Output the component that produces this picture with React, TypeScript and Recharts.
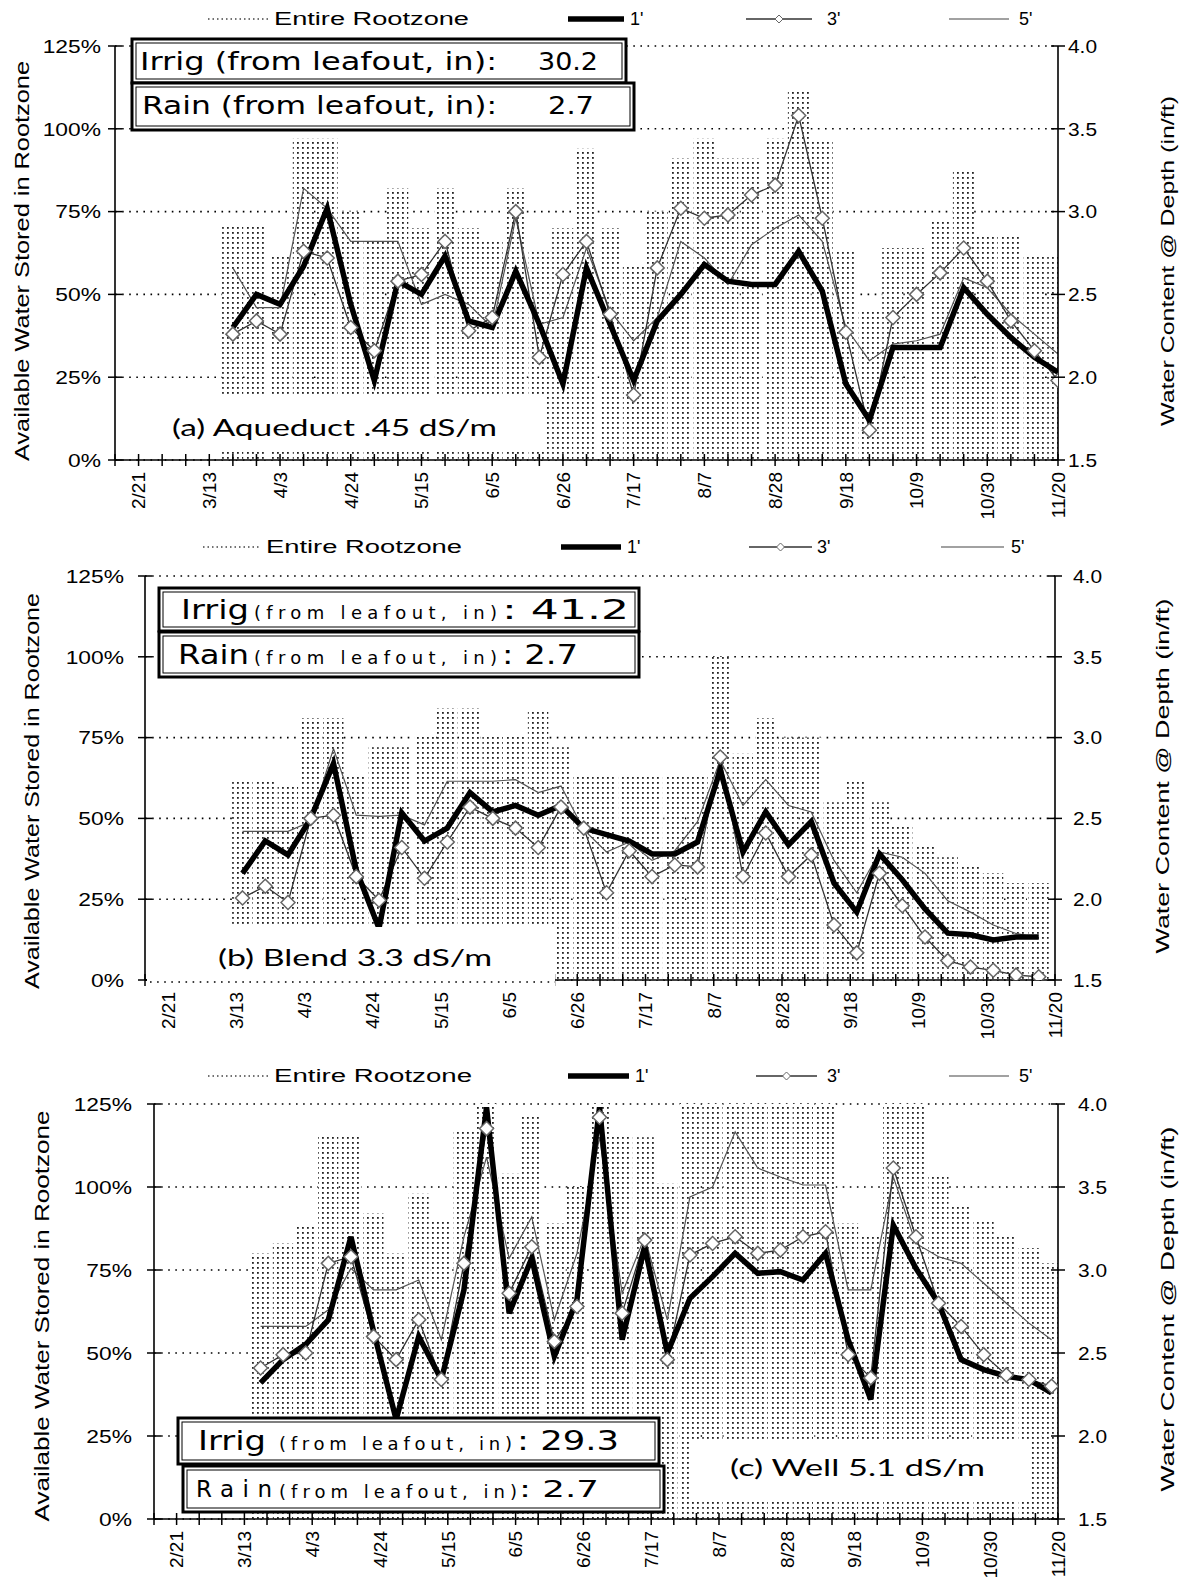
import React from 'react';
import { ComposedChart, Bar, Line, XAxis, YAxis, CartesianGrid } from 'recharts';

// ---- shared axis data ----
const minorTicks = [-7, 0, 7, 14, 21, 28, 35, 42, 49, 56, 63, 70, 77, 84, 91, 98, 105, 112, 119, 126, 133, 140, 147, 154, 161, 168, 175, 182, 189, 196, 203, 210, 217, 224, 231, 238, 245, 252, 259, 266, 273];
const labelDays = [0, 21, 42, 63, 84, 105, 126, 147, 168, 189, 210, 231, 252, 273];
const tickLabels = ['2/21', '3/13', '4/3', '4/24', '5/15', '6/5', '6/26', '7/17', '8/7', '8/28', '9/18', '10/9', '10/30', '11/20'];
const leftTicks = [0, 25, 50, 75, 100, 125];
const rightTicks = [1.5, 2, 2.5, 3, 3.5, 4];
const rightLabels = ['1.5', '2.0', '2.5', '3.0', '3.5', '4.0'];

// ---- panel (a) Aqueduct : weekly readings (days after 2/21) ----
const aDays = [28, 35, 42, 49, 56, 63, 70, 77, 84, 91, 98, 105, 112, 119, 126, 133, 140, 147, 154, 161, 168, 175, 182, 189, 196, 203, 210, 217, 224, 231, 238, 245, 252, 259, 266, 273];
const aRoot = [71, 71, 62, 97, 97, 75, 66, 82, 70, 82, 70, 66, 82, 63, 70, 94, 70, 59, 75, 91, 97, 91, 91, 97, 112, 96, 63, 45, 64, 64, 72, 87, 68, 68, 62, 62];
const a1 = [40, 50, 47, 58.5, 76, 47, 24, 54, 50, 61.6, 42, 40, 57, 41, 23, 58, 41, 24, 42, 50, 59, 54, 53, 53, 63, 51, 23, 12, 34, 34, 34, 52, 44, 37, 31, 26.5];
const a3 = [38, 42, 38, 63, 61, 40, 33, 54, 56, 66, 39, 43, 75, 31, 56, 66, 44, 19.6, 58, 76, 73, 74, 80, 83, 104, 73, 38.6, 9, 43, 50, 56.5, 64, 54, 42, 33, 24];
const a5 = [58, 46, 46, 82, 76, 66, 66, 66, 47, 50, 47, 40, 73, 41, 43, 64, 45, 36, 43, 66, 61, 53, 65, 70, 74, 66, 40, 30, 35, 36, 38, 55, 52, 44, 38, 32];

// ---- panel (b) Blend ----
const bDays = [23, 30, 37, 44, 51, 58, 65, 72, 79, 86, 93, 100, 107, 114, 121, 128, 135, 142, 149, 156, 163, 170, 177, 184, 191, 198, 205, 212, 219, 226, 233, 240, 247, 254, 261, 268];
const bRoot = [62, 62, 60, 81, 81, 63, 72, 72, 76, 84, 84, 76, 76, 83, 72, 63, 63, 63, 63, 63, 63, 100, 70, 81, 75, 75, 55, 62, 55, 48, 42, 38, 35, 33, 30, 30];
const b1 = [33, 43, 38.7, 50, 67, 34, 16, 51.7, 43, 47, 58, 52, 54, 51, 54, 47, 45, 43, 39, 39, 42.7, 65, 39.6, 52, 41.8, 49, 30, 21, 39, 31, 22, 14.5, 14, 12.4, 13.3, 13.3];
const b3 = [25.4, 29, 24, 50, 51, 32, 24.7, 41, 31.5, 42.7, 53.5, 50, 47, 41, 53.5, 47, 27, 40, 32, 35.6, 35, 69, 32, 45.5, 32, 38.7, 17, 8.4, 33, 23, 13.3, 6, 4, 3, 1.5, 1];
const b5 = [46, 46, 46, 49, 71.6, 51, 50.6, 51, 48, 61.5, 61.5, 61.5, 62, 58, 60, 46.5, 39.6, 42.7, 37, 40, 49, 68, 54, 62, 54, 52, 37, 27, 39.6, 38, 33, 24.5, 21, 17, 14.4, 13];

// ---- panel (c) Well ----
const cDays = [26, 33, 40, 47, 54, 61, 68, 75, 82, 89, 96, 103, 110, 117, 124, 131, 138, 145, 152, 159, 166, 173, 180, 187, 194, 201, 208, 215, 222, 229, 236, 243, 250, 257, 264, 271];
const cRoot = [80, 83, 88, 116, 116, 92, 80, 98, 90, 117, 125, 104, 122, 89, 100, 125, 116, 115, 101, 125, 125, 125, 125, 125, 125, 125, 89, 85.5, 125, 125, 103.6, 94, 90, 85, 81.6, 77];
const c1 = [41, 48, 52.6, 60, 85, 56.5, 30, 55, 42, 69, 124, 62, 78.5, 49, 66, 124, 54, 82, 50, 66.5, 73, 80, 74, 74.5, 72, 80, 54, 36, 88.5, 75.5, 65, 48, 45, 43, 42, 38];
const c3 = [45.5, 49.5, 50, 77, 79, 55, 48, 60, 42, 77, 117.6, 68, 82, 53.5, 64, 121, 62, 84, 48, 79.5, 83, 85, 80, 81, 85, 86.5, 49.5, 42.5, 105.7, 85, 65, 58, 49.5, 43.4, 42, 40];
const c5 = [58, 58, 58, 63, 75.5, 69, 69, 72, 54, 85, 109, 78.5, 91, 60, 80, 115, 68, 85, 60, 97, 100, 116.6, 105.7, 103, 100.6, 100.6, 69, 69, 103, 83, 79, 77, 71, 65, 59, 54];

const FONT = "'Liberation Sans', Arial, Helvetica, sans-serif";
const BOXFONT = "'DejaVu Sans', Verdana, sans-serif";
const NOTEFONT = "Lato, 'Open Sans', sans-serif";

const CW: Record<string, number> = { '0': 0.556, '1': 0.556, '2': 0.556, '3': 0.556, '4': 0.556, '5': 0.556, '6': 0.556, '7': 0.556, '8': 0.556, '9': 0.556, '%': 0.889, '.': 0.278, '/': 0.278 };
const natW = (s: string, fs: number) => s.split('').reduce((a, c) => a + (CW[c] ?? 0.556), 0) * fs;

const Diamond = (p: any) => {
  const { cx, cy, index } = p;
  if (cx == null || cy == null || isNaN(cx) || isNaN(cy)) return <g key={'d' + index} />;
  const s = 7;
  return (
    <polygon key={'d' + index} points={`${cx},${cy - s} ${cx + s},${cy} ${cx},${cy + s} ${cx - s},${cy}`}
      fill="#fff" stroke="#666" strokeWidth={1.5} />
  );
};

const XTick = (p: any) => {
  const { x, y, payload } = p;
  const idx = labelDays.indexOf(payload.value);
  const ty = y + 12;
  return (
    <g>
      <line x1={x} x2={x} y1={y - 6} y2={y + 6} stroke="#000" strokeWidth={1.5} />
      {idx >= 0 ? (
        <text x={x} y={ty} transform={`rotate(-90 ${x} ${ty})`} textAnchor="end" dy="0.36em"
          fontFamily={FONT} fontSize={19} fill="#000">{tickLabels[idx]}</text>
      ) : null}
    </g>
  );
};

const TFS = 19;
const SX = 1.2;

const makeLeftTick = (gap: number) => (p: any) => {
  const { x, y, payload } = p;
  const s = `${payload.value}%`;
  return (
    <g>
      <line x1={x - 7} x2={x + 7} y1={y} y2={y} stroke="#000" strokeWidth={1.5} />
      <text x={x - gap} y={y} dy="0.36em" textAnchor="end" fontFamily={FONT} fontSize={TFS} fill="#000"
        textLength={natW(s, TFS) * SX} lengthAdjust="spacingAndGlyphs">{s}</text>
    </g>
  );
};

const makeRightTick = (gap: number) => (p: any) => {
  const { x, y, payload } = p;
  const i = rightTicks.indexOf(payload.value);
  const s = rightLabels[i];
  return (
    <g>
      <line x1={x - 7} x2={x + 7} y1={y} y2={y} stroke="#000" strokeWidth={1.5} />
      <text x={x + gap} y={y} dy="0.36em" textAnchor="start" fontFamily={FONT} fontSize={TFS} fill="#000"
        textLength={natW(s, TFS) * 1.1} lengthAdjust="spacingAndGlyphs">{s}</text>
    </g>
  );
};

type PanelProps = {
  top: number; height: number; l: number; r: number; t: number; b: number; xh: number;
  lgap: number; rgap: number; days: number[]; root: number[]; s1: number[]; s3: number[]; s5: number[];
};

const W = 1190;

function Panel(props: PanelProps) {
  const { top, height, l, r, t, b, xh, lgap, rgap, days, root, s1, s3, s5 } = props;
  const data = days.map((d, i) => ({ day: d, root: root[i], s1: s1[i], s3: s3[i], s5: s5[i] }));
  const rightW = 60;
  const margin = { top: t - top, bottom: top + height - b - xh, left: 0, right: W - r - rightW };
  const barW = ((r - l) * 7) / 280 + 0.8;
  return (
    <div style={{ position: 'absolute', left: 0, top, width: W, height }}>
      <ComposedChart width={W} height={height} data={data} margin={margin}>
        <CartesianGrid yAxisId="left" vertical={false} stroke="#000" strokeWidth={1.6} strokeDasharray="1.6 5.5" />
        <XAxis dataKey="day" type="number" domain={[-7, 273]} ticks={minorTicks} interval={0} height={xh}
          tick={XTick} tickLine={false} tickSize={0} tickMargin={0}
          axisLine={{ stroke: '#000', strokeWidth: 1.6 }} allowDataOverflow />
        <YAxis yAxisId="left" orientation="left" width={l} domain={[0, 125]} ticks={leftTicks} interval={0}
          tick={makeLeftTick(lgap)} tickLine={false} tickSize={0} tickMargin={0}
          axisLine={{ stroke: '#000', strokeWidth: 1.6 }} allowDataOverflow />
        <YAxis yAxisId="right" orientation="right" width={rightW} domain={[1.5, 4]} ticks={rightTicks} interval={0}
          tick={makeRightTick(rgap)} tickLine={false} tickSize={0} tickMargin={0}
          axisLine={{ stroke: '#000', strokeWidth: 1.6 }} allowDataOverflow />
        <Bar yAxisId="left" dataKey="root" fill="url(#dotpat)" barSize={barW} isAnimationActive={false} />
        <Line yAxisId="left" dataKey="s5" stroke="#555" strokeWidth={1.2} dot={false} type="linear" isAnimationActive={false} />
        <Line yAxisId="left" dataKey="s3" stroke="#333" strokeWidth={1.3} dot={Diamond} type="linear" isAnimationActive={false} />
        <Line yAxisId="left" dataKey="s1" stroke="#000" strokeWidth={5.5} dot={false} type="linear" isAnimationActive={false} />
      </ComposedChart>
    </div>
  );
}

type LegendCfg = { y: number; dot: number[]; txt: number[]; l1: number[]; t1: number; l3: number[]; t3: number; l5: number[]; t5: number };

function LegendRow({ c }: { c: LegendCfg }) {
  const m3 = (c.l3[0] + c.l3[1]) / 2;
  return (
    <g fontFamily={FONT} fontSize={18} fill="#000">
      <line x1={c.dot[0]} x2={c.dot[1]} y1={c.y} y2={c.y} stroke="#444" strokeWidth={1.5} strokeDasharray="1.5 3" />
      <text x={c.txt[0]} y={c.y} dominantBaseline="central" textLength={c.txt[1] - c.txt[0]} lengthAdjust="spacingAndGlyphs">Entire Rootzone</text>
      <line x1={c.l1[0]} x2={c.l1[1]} y1={c.y} y2={c.y} stroke="#000" strokeWidth={5.5} />
      <text x={c.t1} y={c.y} dominantBaseline="central">1'</text>
      <line x1={c.l3[0]} x2={c.l3[1]} y1={c.y} y2={c.y} stroke="#333" strokeWidth={1.3} />
      <polygon points={`${m3},${c.y - 4} ${m3 + 4},${c.y} ${m3},${c.y + 4} ${m3 - 4},${c.y}`} fill="#fff" stroke="#666" strokeWidth={1} />
      <text x={c.t3} y={c.y} dominantBaseline="central">3'</text>
      <line x1={c.l5[0]} x2={c.l5[1]} y1={c.y} y2={c.y} stroke="#444" strokeWidth={1.2} />
      <text x={c.t5} y={c.y} dominantBaseline="central">5'</text>
    </g>
  );
}

function DBox({ x1, y1, x2, y2 }: { x1: number; y1: number; x2: number; y2: number }) {
  return (
    <g>
      <rect x={x1} y={y1} width={x2 - x1} height={y2 - y1} fill="#fff" stroke="#000" strokeWidth={3} />
      <rect x={x1 + 4} y={y1 + 4} width={x2 - x1 - 8} height={y2 - y1 - 8} fill="none" stroke="#000" strokeWidth={1} />
    </g>
  );
}

function VTitle({ x, y, len, text, fs }: { x: number; y: number; len: number; text: string; fs: number }) {
  return (
    <text x={x} y={y} transform={`rotate(-90 ${x} ${y})`} textAnchor="middle" dominantBaseline="central"
      fontFamily={FONT} fontSize={fs} fill="#000" textLength={len} lengthAdjust="spacingAndGlyphs">{text}</text>
  );
}

type ST = { x: number; y: number; w: number; fs: number; t: string; adj?: string };
function SText({ x, y, w, fs, t, adj }: ST) {
  return (
    <text x={x} y={y} fontSize={fs} dominantBaseline="central" textLength={w} lengthAdjust={adj || 'spacingAndGlyphs'}>{t}</text>
  );
}

function Overlay() {
  return (
    <svg width={W} height={1591} style={{ position: 'absolute', left: 0, top: 0, pointerEvents: 'none' }}>
      {/* white boxes hiding lower-left fill */}
      <rect x={117} y={397} width={427} height={55} fill="#fff" />
      <rect x={147} y={927} width={408} height={62} fill="#fff" />
      <line x1={150} x2={555} y1={982} y2={982} stroke="#000" strokeWidth={1.6} strokeDasharray="1.6 5.5" />
      <rect x={692} y={1440} width={340} height={62} fill="#fff" />

      {/* legends */}
      <LegendRow c={{ y: 19, dot: [208, 269], txt: [274, 469], l1: [568, 624], t1: 630, l3: [746, 812], t3: 827, l5: [949, 1009], t5: 1019 }} />
      <LegendRow c={{ y: 547, dot: [203, 259], txt: [266, 462], l1: [561, 621], t1: 627, l3: [749, 812], t3: 817, l5: [941, 1004], t5: 1011 }} />
      <LegendRow c={{ y: 1076, dot: [208, 269], txt: [274, 472], l1: [568, 629], t1: 635, l3: [756, 817], t3: 827, l5: [949, 1009], t5: 1019 }} />

      {/* axis titles */}
      <VTitle x={22} y={261} len={400} fs={20} text="Available Water Stored in Rootzone" />
      <VTitle x={32} y={791} len={396} fs={20} text="Available Water Stored in Rootzone" />
      <VTitle x={42} y={1316} len={411} fs={20} text="Available Water Stored in Rootzone" />
      <VTitle x={1167} y={261} len={330} fs={19} text="Water Content @ Depth (in/ft)" />
      <VTitle x={1162} y={776} len={355} fs={19} text="Water Content @ Depth (in/ft)" />
      <VTitle x={1167} y={1309} len={365} fs={19} text="Water Content @ Depth (in/ft)" />

      {/* panel a info boxes */}
      <DBox x1={132} y1={39} x2={626} y2={83} />
      <DBox x1={132} y1={83} x2={634} y2={130} />
      <g fontFamily={BOXFONT} fill="#000">
        <SText x={140} y={62} w={357} fs={24} t="Irrig (from leafout, in):" />
        <SText x={538} y={62} w={60} fs={24} t="30.2" />
        <SText x={142} y={106} w={355} fs={24} t="Rain (from leafout, in):" />
        <SText x={548} y={106} w={46} fs={24} t="2.7" />
      </g>

      {/* panel b info boxes */}
      <DBox x1={159} y1={588} x2={639} y2={631} />
      <DBox x1={159} y1={632} x2={639} y2={677} />
      <g fontFamily={BOXFONT} fill="#000">
        <SText x={181} y={610} w={68} fs={26} t="Irrig" />
        <SText x={254} y={612} w={243} fs={18} t="(from leafout, in)" adj="spacing" />
        <SText x={502} y={610} w={127} fs={26} t=": 41.2" />
        <SText x={178} y={655} w={71} fs={26} t="Rain" />
        <SText x={254} y={657} w={243} fs={18} t="(from leafout, in)" adj="spacing" />
        <SText x={502} y={655} w={76} fs={26} t=": 2.7" />
      </g>

      {/* panel c info boxes */}
      <DBox x1={178} y1={1418} x2={659} y2={1464} />
      <DBox x1={183} y1={1466} x2={664} y2={1512} />
      <g fontFamily={BOXFONT} fill="#000">
        <SText x={198} y={1441} w={68} fs={26} t="Irrig" />
        <SText x={279} y={1443} w={233} fs={18} t="(from leafout, in)" adj="spacing" />
        <SText x={517} y={1441} w={102} fs={26} t=": 29.3" />
        <SText x={196} y={1489} w={76} fs={23} t="Rain" adj="spacing" />
        <SText x={279} y={1491} w={238} fs={18} t="(from leafout, in)" adj="spacing" />
        <SText x={519} y={1489} w={80} fs={23} t=": 2.7" />
      </g>

      {/* panel notes */}
      <g fontFamily={NOTEFONT} fill="#000">
        <SText x={172} y={426} w={325} fs={24} t="(a) Aqueduct   .45 dS/m" />
        <SText x={218} y={956} w={274} fs={24} t="(b) Blend  3.3 dS/m" />
        <SText x={730} y={1466} w={255} fs={24} t="(c) Well  5.1 dS/m" />
      </g>
    </svg>
  );
}

export default function App() {
  return (
    <div style={{ position: 'absolute', left: 0, top: 0, width: W, height: 1591, background: '#fff' }}>
      <svg width={0} height={0} style={{ position: 'absolute' }}>
        <defs>
          <pattern id="dotpat" width={5} height={5} patternUnits="userSpaceOnUse">
            <rect width={5} height={5} fill="#fff" />
            <rect x={2} y={2} width={1.8} height={1.8} fill="#222" />
          </pattern>
        </defs>
      </svg>
      <Panel top={0} height={528} l={115} r={1058} t={46} b={460} xh={60} lgap={14} rgap={10} days={aDays} root={aRoot} s1={a1} s3={a3} s5={a5} />
      <Panel top={530} height={522} l={145} r={1055} t={576} b={980} xh={60} lgap={21} rgap={18} days={bDays} root={bRoot} s1={b1} s3={b3} s5={b5} />
      <Panel top={1055} height={536} l={154} r={1058} t={1104} b={1519} xh={62} lgap={22} rgap={20} days={cDays} root={cRoot} s1={c1} s3={c3} s5={c5} />
      <Overlay />
    </div>
  );
}
